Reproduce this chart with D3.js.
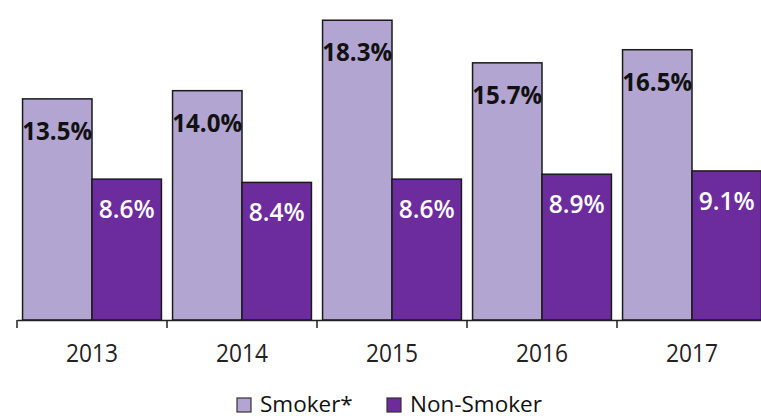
<!DOCTYPE html>
<html>
<head>
<meta charset="utf-8">
<script src="https://cdn.jsdelivr.net/npm/d3@7"></script>
<style>
  html, body { margin: 0; padding: 0; background: #fff; }
  svg { display: block; }
</style>
</head>
<body>
<svg id="chart" width="761" height="418"></svg>
<script>
const years = ["2013", "2014", "2015", "2016", "2017"];
const seriesNames = ["Smoker*", "Non-Smoker"];
const smoker = [13.5, 14.0, 18.3, 15.7, 16.5];
const nonSmoker = [8.6, 8.4, 8.6, 8.9, 9.1];
const seriesColors = ["#b3a5d1", "#6c2c9d"];
const labelColors = ["#111111", "#ffffff"];

const svg = d3.select("#chart");
const baseY = 320;

const x0 = d3.scaleBand().domain(years).range([17, 767]).paddingInner(0).paddingOuter(0);
const x1 = d3.scaleBand().domain(seriesNames).range([0, x0.bandwidth()]).paddingInner(0).paddingOuter(0.08);
const y = d3.scaleLinear().domain([0, 20]).range([baseY, baseY - 327.6]);

const rows = years.map((yr, i) => ({ year: yr, values: [smoker[i], nonSmoker[i]] }));

const groups = svg.selectAll("g.grp").data(rows).join("g")
  .attr("class", "grp")
  .attr("transform", d => `translate(${x0(d.year)},0)`);

groups.selectAll("rect").data(d => d.values.map((v, j) => ({ v, j })))
  .join("rect")
  .attr("x", d => x1(seriesNames[d.j]))
  .attr("width", x1.bandwidth())
  .attr("y", d => y(d.v))
  .attr("height", d => baseY - y(d.v))
  .attr("fill", d => seriesColors[d.j])
  .attr("stroke", "#1a1a1a")
  .attr("stroke-width", 1.5);

groups.selectAll("text.lbl").data(d => d.values.map((v, j) => ({ v, j })))
  .join("text")
  .attr("class", "lbl")
  .attr("x", d => x1(seriesNames[d.j]) + x1.bandwidth() / 2)
  .attr("y", d => y(d.v) + (d.j === 0 ? 41 : 39))
  .attr("text-anchor", "middle")
  .attr("font-family", "'Open Sans', sans-serif")
  .attr("font-size", 25)
  .attr("font-weight", d => d.j === 0 ? 700 : 600)
  .attr("fill", d => labelColors[d.j])
  .each(function(d) {
    d3.select(this)
      .attr("textLength", d.j === 0 ? 70 : 56)
      .attr("lengthAdjust", "spacingAndGlyphs");
  })
  .text(d => d.v.toFixed(1) + "%");

// x axis
const axis = d3.axisBottom(x0).tickSize(0).tickPadding(0);
const axisG = svg.append("g").attr("transform", `translate(0,${baseY})`).call(axis);
axisG.select(".domain").attr("stroke", "#222").attr("stroke-width", 1.5);
axisG.selectAll(".tick text")
  .attr("y", 42)
  .attr("dy", null)
  .attr("font-family", "'Open Sans', sans-serif")
  .attr("font-size", 25)
  .attr("fill", "#222")
  .attr("textLength", 52)
  .attr("lengthAdjust", "spacingAndGlyphs");
// boundary tick marks between categories
const boundaries = years.map(yr => x0(yr)).concat([x0(years[years.length - 1]) + x0.bandwidth()]);
axisG.selectAll("line.bt").data(boundaries).join("line")
  .attr("class", "bt")
  .attr("x1", d => d).attr("x2", d => d)
  .attr("y1", 0).attr("y2", 8)
  .attr("stroke", "#222").attr("stroke-width", 1.5);

// legend
const legendX = [237, 387];
const leg = svg.append("g");
seriesNames.forEach((s, i) => {
  leg.append("rect")
    .attr("x", legendX[i]).attr("y", 398)
    .attr("width", 14).attr("height", 14)
    .attr("fill", seriesColors[i])
    .attr("stroke", "#333").attr("stroke-width", 1.2);
  leg.append("text")
    .attr("x", legendX[i] + 23).attr("y", 412)
    .attr("font-family", "'Open Sans', sans-serif")
    .attr("font-size", 22.5)
    .attr("fill", "#111")
    .text(s);
});
</script>
</body>
</html>
